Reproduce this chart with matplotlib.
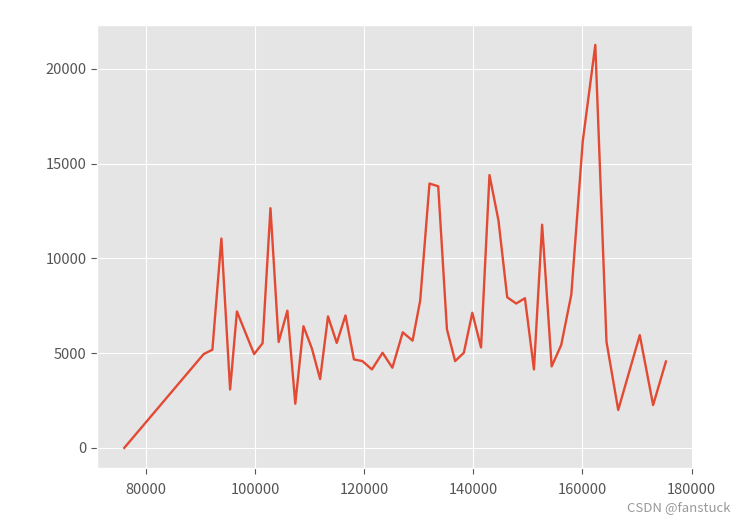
import matplotlib
matplotlib.use("Agg")
import matplotlib.pyplot as plt

# values
x_vals = [76000, 90550, 92150, 93800, 95400, 96650, 99800, 101350, 102800, 104300,
          105900, 107350, 108850, 110400, 111900, 113350, 114950, 116550, 118100, 119650,
          121400, 123350, 125150, 127050, 128850, 130250, 131950, 133550, 135150, 136650,
          138250, 139800, 141400, 142950, 144600, 146200, 147850, 149450, 151100, 152600,
          154350, 156100, 157950, 160050, 162350, 164400, 166550, 170500, 172950, 175300]
y_vals = [0, 4950, 5180, 11050, 3080, 7200, 4950, 5520, 12650, 5590,
          7240, 2330, 6420, 5240, 3630, 6940, 5540, 6990, 4670, 4580,
          4140, 5020, 4230, 6100, 5660, 7780, 13950, 13810, 6260, 4580,
          5020, 7130, 5300, 14400, 12000, 7950, 7620, 7900, 4140, 11780,
          4300, 5430, 8090, 16190, 21270, 5600, 2000, 5950, 2260, 4560]

plt.style.use('ggplot')
plt.rcParams['font.family'] = ['Noto Sans CJK SC', 'DejaVu Sans']

fig = plt.figure(figsize=(7.42, 5.16), dpi=100)
ax = fig.add_axes([0.131, 0.093, 0.803, 0.859])
ax.plot(x_vals, y_vals, color='#E24A33', linewidth=1.7)

ax.set_xticks([80000, 100000, 120000, 140000, 160000, 180000])
ax.set_yticks([0, 5000, 10000, 15000, 20000])
ax.tick_params(labelsize=10.5, colors='#555555', length=4, width=0.8)
ax.tick_params(axis='x', pad=7)

# watermark, kept just below the last x tick label
fig.text(0.984, 0.004, 'CSDN @fanstuck', ha='right', va='bottom', fontsize=9.5, color='#999999')

fig.savefig('out.png', dpi=100)
